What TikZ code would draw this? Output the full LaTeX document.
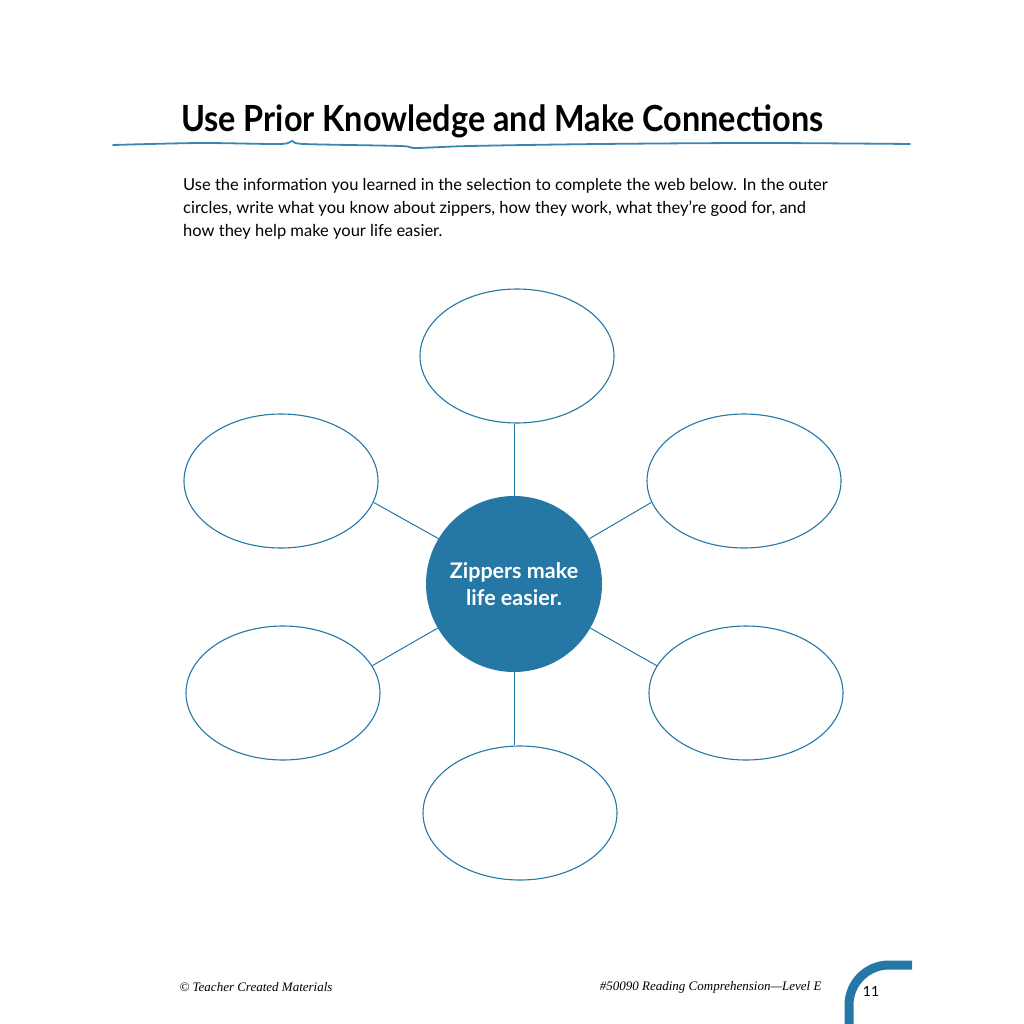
\documentclass[tikz,border=0pt]{standalone}
\usepackage{fontspec}
\setmainfont{Lato}
\newfontfamily\footfont{Liberation Serif}
\usetikzlibrary{shapes.geometric,positioning}
\definecolor{webblue}{HTML}{2577A5}
\definecolor{ruleblue}{HTML}{3A86B0}

\begin{document}
\begin{tikzpicture}[x=1pt,y=-1pt,
  outer/.style={draw=webblue,line width=1.1pt,ellipse,minimum width=194pt,minimum height=134pt,inner sep=0pt},
  hub/.style={circle,fill=webblue,minimum size=176pt,inner sep=0pt,text=white,align=center,
    font=\fontsize{21.5}{27}\selectfont\bfseries},
  spoke/.style={draw=webblue,line width=1pt}
]
\useasboundingbox (0,0) rectangle (1024,1024);

% title and wavy rule
\node[anchor=west,inner sep=0pt,font=\fontsize{36}{40}\selectfont\bfseries] (title) at (181,121) {\scalebox{0.9}[1]{Use Prior Knowledge and Make Connections}};
\draw[ruleblue,line width=1.8pt,line cap=round] plot[smooth] coordinates {(113,145) (200,143) (280,144) (292,141) (304,144) (400,146) (416,148) (470,146) (600,144) (760,143) (910,144)};

% instructions
\node[anchor=north west,align=left,inner sep=0pt,font=\fontsize{16.5}{23}\selectfont] (intro) at (183,178)
  {Use the information you learned in the selection to complete the web below. In the outer\\
   circles, write what you know about zippers, how they work, what they're good for, and\\
   how they help make your life easier.};

% the web
\node[hub] (hub) at (514,584) {Zippers make\\life easier.};
\node[outer] (top) at (517,356) {};
\node[outer] (upleft) at (281,481) {};
\node[outer] (upright) at (744,481) {};
\node[outer] (lowleft) at (283,693) {};
\node[outer] (lowright) at (746,693) {};
\node[outer] (bottom) at (520,813) {};

\draw[spoke] (hub.north) -- (top.south -| hub.north);
\draw[spoke] (hub.south) -- (bottom.north -| hub.south);
\draw[spoke] (hub.149) -- (upleft.-13);
\draw[spoke] (hub.31) -- (upright.193);
\draw[spoke] (hub.210) -- (lowleft.17);
\draw[spoke] (hub.-30) -- (lowright.163);

% footer
\node[anchor=west,font=\footfont\itshape\fontsize{13}{15}\selectfont] (copy) at (176,987) {\textcopyright{} Teacher Created Materials};
\node[anchor=east,font=\footfont\itshape\fontsize{13}{15}\selectfont] (series) at (825,987) {\#50090 Reading Comprehension—Level E};
\draw[webblue,line width=9pt,rounded corners=40pt] (849,1030) -- (849,965) -- (912,965);
\node[font=\fontsize{14}{16}\selectfont] (page) at (871,991) {11};
\end{tikzpicture}
\end{document}
